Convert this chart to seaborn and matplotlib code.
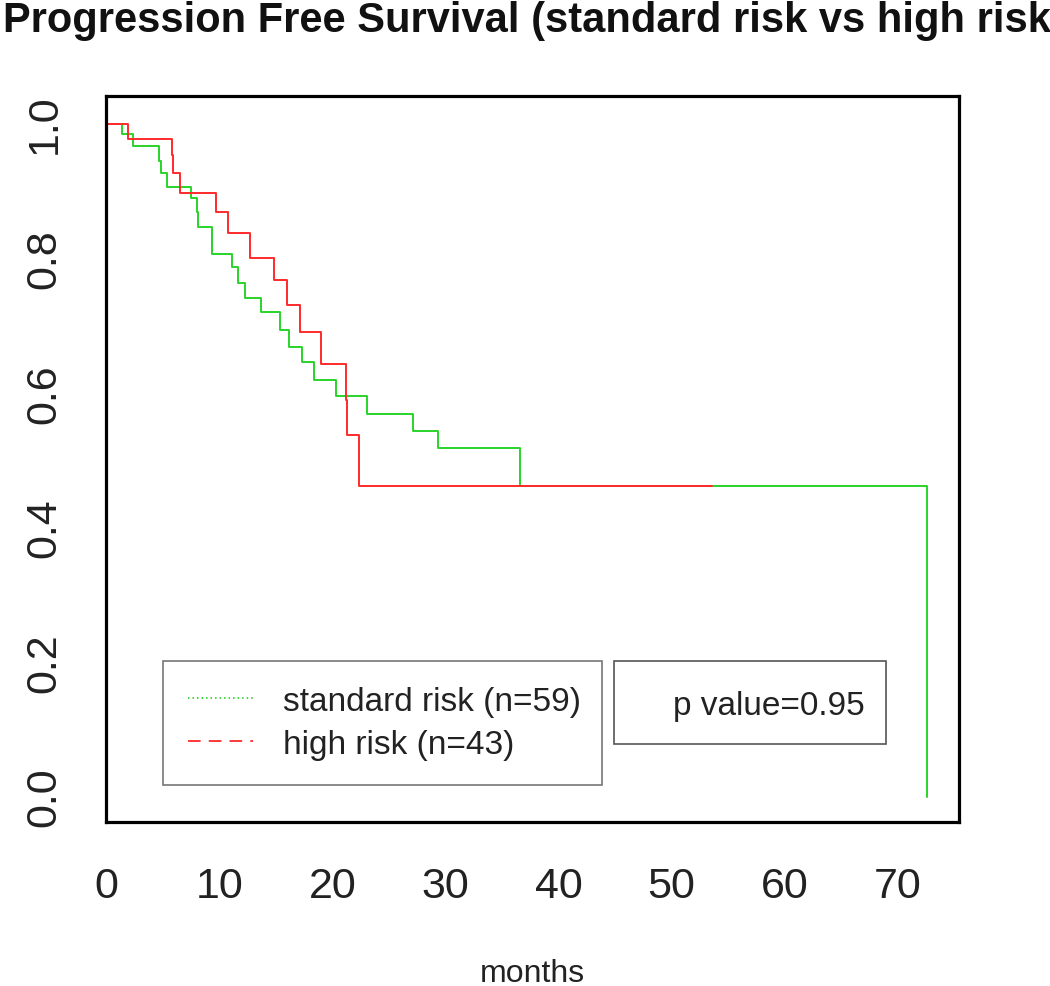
import pandas as pd
import matplotlib.pyplot as plt
import seaborn as sns
from matplotlib.lines import Line2D
from matplotlib.patches import Rectangle

# Kaplan-Meier step points (months, survival)
std_months = [0, 1.39, 2.41, 4.71, 4.86, 5.37, 7.49, 8.02, 8.16, 9.35, 11.17, 11.70,
              12.29, 13.70, 15.38, 16.21, 17.30, 18.42, 20.31, 23.05, 27.17, 29.38,
              36.63, 72.56]
std_surv = [1.0, 0.985, 0.966, 0.945, 0.926, 0.906, 0.889, 0.869, 0.847, 0.807, 0.787,
            0.763, 0.741, 0.720, 0.694, 0.668, 0.646, 0.619, 0.595, 0.569, 0.543, 0.518,
            0.461, 0.0]

high_months = [0, 1.97, 5.81, 5.95, 6.54, 9.73, 10.81, 12.73, 14.85, 16.03, 17.15,
               18.98, 21.19, 21.34, 22.37, 53.55]
high_surv = [1.0, 0.977, 0.953, 0.926, 0.897, 0.869, 0.838, 0.801, 0.768, 0.730, 0.691,
             0.643, 0.590, 0.537, 0.461, 0.461]

labels = ['standard risk (n=59)', 'high risk (n=43)']
p_text = 'p value=0.95'
x_ticks = [0, 10, 20, 30, 40, 50, 60, 70]
y_ticks = [0.0, 0.2, 0.4, 0.6, 0.8, 1.0]

green = '#2ad42a'
red = '#ff2a2a'

sns.set_style('white')
plt.rcParams['font.family'] = ['Liberation Sans', 'DejaVu Sans']

std_df = pd.DataFrame({'months': std_months, 'surv': std_surv})
high_df = pd.DataFrame({'months': high_months, 'surv': high_surv})

fig = plt.figure(figsize=(10.5, 9.87), dpi=100)
ax = fig.add_axes([0.101, 0.1662, 0.8123, 0.7355])

sns.lineplot(data=std_df, x='months', y='surv', ax=ax, color=green, lw=1.4,
             drawstyle='steps-post', estimator=None, sort=False, legend=False)
sns.lineplot(data=high_df, x='months', y='surv', ax=ax, color=red, lw=1.4,
             drawstyle='steps-post', estimator=None, sort=False, legend=False)

ax.set_xlim(0, 75.4)
ax.set_ylim(-0.0376, 1.041)
ax.set_xticks(x_ticks)
ax.set_yticks(y_ticks)
ax.set_xticklabels([str(t) for t in x_ticks])
ax.set_yticklabels([f'{t:.1f}' for t in y_ticks])
ax.tick_params(axis='both', direction='out', length=14, width=1.1, color='#555555',
               labelsize=31, labelcolor='#222222', pad=18)
ax.tick_params(axis='y', labelrotation=90, pad=16)
for lab in ax.get_yticklabels():
    lab.set_va('center')
for sp in ax.spines.values():
    sp.set_color('black')
    sp.set_linewidth(2.3)

ax.set_xlabel('months', fontsize=23, labelpad=37, color='#222222')
ax.set_ylabel('')

# legend box
handles = [Line2D([], [], color=green, lw=1.3, ls=(0, (0.8, 1.7))),
           Line2D([], [], color=red, lw=1.3, ls=(0, (7, 4.5)))]
leg = ax.legend(handles, labels, loc='upper left', bbox_to_anchor=(0.0668, 0.0, 0.5147, 0.2218),
                mode='expand', borderaxespad=0, fontsize=24, frameon=True, fancybox=False,
                borderpad=0.75, handlelength=1.95, handletextpad=0.9, labelspacing=0.35)
leg.get_frame().set_edgecolor('#555555')
leg.get_frame().set_linewidth(1.2)
for t in leg.get_texts():
    t.set_color('#222222')

# p value box
ax.add_patch(Rectangle((0.5955, 0.1074), 0.3189, 0.1144, transform=ax.transAxes,
                       fill=False, edgecolor='#555555', lw=1.2))
ax.text(0.8898, 0.1602, p_text, transform=ax.transAxes, ha='right', va='center',
        fontsize=24, color='#222222')

fig.text(0.003, 0.9676, 'Progression Free Survival (standard risk vs high risk',
         fontsize=30, fontweight='bold', ha='left', va='baseline', color='#111111')

fig.savefig('out.png', dpi=100)
